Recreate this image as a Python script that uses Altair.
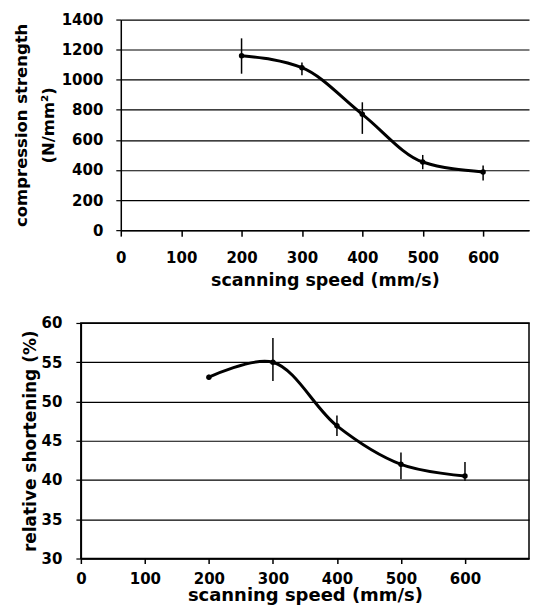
import altair as alt
import pandas as pd

# ---- data ----
speed = [200, 300, 400, 500, 600]

strength = [1160, 1080, 770, 453, 387]
strength_lo = [1040, 1030, 640, 405, 330]
strength_hi = [1275, 1115, 850, 500, 430]

shortening = [53.1, 55.0, 46.9, 42.0, 40.5]
shortening_lo = [52.8, 52.6, 45.6, 40.1, 39.9]
shortening_hi = [53.4, 58.1, 48.2, 43.5, 42.3]

x_ticks = [0, 100, 200, 300, 400, 500, 600]
y1_ticks = [0, 200, 400, 600, 800, 1000, 1200, 1400]
y2_ticks = [30, 35, 40, 45, 50, 55, 60]

x_title = "scanning speed (mm/s)"
y1_title = ["compression strength", "(N/mm\u00b2)"]
y2_title = "relative shortening (%)"

FONT = "DejaVu Sans"

df1 = pd.DataFrame({"speed": speed, "v": strength, "lo": strength_lo, "hi": strength_hi})
df2 = pd.DataFrame({"speed": speed, "v": shortening, "lo": shortening_lo, "hi": shortening_hi})


def x_axis(label_pad, title_size, title_pad, tick_size=6):
    return alt.Axis(values=x_ticks, title=x_title, grid=False, labelFlush=False,
                    labelOverlap=False, format="d",
                    domainColor="black", domainWidth=1.5, tickColor="black",
                    tickWidth=1.5, tickSize=tick_size, labelPadding=label_pad,
                    labelFont=FONT, labelFontWeight="bold", labelFontSize=15,
                    labelColor="black", titleFont=FONT, titleFontWeight="bold",
                    titleFontSize=title_size, titleColor="black",
                    titlePadding=title_pad)


def y_axis(values, title, title_size, title_pad, label_pad, line_height=20):
    return alt.Axis(values=values, title=title, grid=True, gridColor="black",
                    gridWidth=1.2, gridOpacity=1, domainColor="black", format="d",
                    domainWidth=1.5, tickColor="black", tickWidth=1.2, tickSize=5,
                    labelPadding=label_pad, labelFont=FONT, labelFontWeight="bold",
                    labelFontSize=15, labelColor="black", labelOverlap=False,
                    titleFont=FONT, titleFontWeight="bold", titleFontSize=title_size,
                    titleColor="black", titlePadding=title_pad,
                    titleLineHeight=line_height)


def panel(df, xdom, ydom, xax, yax, interp, left_extent):
    base = alt.Chart(df)
    xs = alt.Scale(domain=xdom, nice=False, zero=False)
    ys = alt.Scale(domain=ydom, nice=False, zero=False)
    x = alt.X("speed:Q", scale=xs, axis=xax)
    line = base.mark_line(color="black", strokeWidth=3, interpolate=interp).encode(
        x=x, y=alt.Y("v:Q", scale=ys, axis=yax))
    err = base.mark_rule(color="black", strokeWidth=1.5).encode(
        x=x, y=alt.Y("lo:Q", scale=ys, axis=yax), y2="hi:Q")
    pts = base.mark_circle(color="black", size=30, opacity=1).encode(
        x=x, y=alt.Y("v:Q", scale=ys, axis=yax))
    spacer = base.mark_rule(strokeOpacity=0).encode(
        x=alt.value(-left_extent), x2=alt.value(-left_extent + 4), y=alt.value(50))
    return alt.layer(line, err, pts, spacer)


def blank():
    return alt.Chart(pd.DataFrame({"a": [0]})).mark_point(size=0, opacity=0).encode(
        x=alt.value(0), y=alt.value(0)).properties(
        width=1, height=1, view=alt.ViewBackground(stroke="transparent"))


top = panel(df1, [0, 676], [0, 1400],
            x_axis(14, 17.5, 6),
            y_axis(y1_ticks, y1_title, 16.5, 5, 13, 27),
            "monotone", 109).properties(
    width=409, height=211,
    view=alt.ViewBackground(stroke="transparent"))

bottom = panel(df2, [0, 700], [30, 60],
               x_axis(8, 18, 0, 5),
               y_axis(y2_ticks, y2_title, 17, 2, 14),
               "catmull-rom", 69).properties(
    width=449, height=236,
    view=alt.ViewBackground(stroke="black", strokeWidth=1.5))

chart = alt.concat(blank(), top, blank(), bottom, columns=2, align="none",
                   spacing={"row": 26, "column": 0}).properties(
    padding={"left": 0, "top": 3, "right": 0, "bottom": 0},
    background="white")

chart.save("out.html", embed_options={"renderer": "svg", "actions": False})
